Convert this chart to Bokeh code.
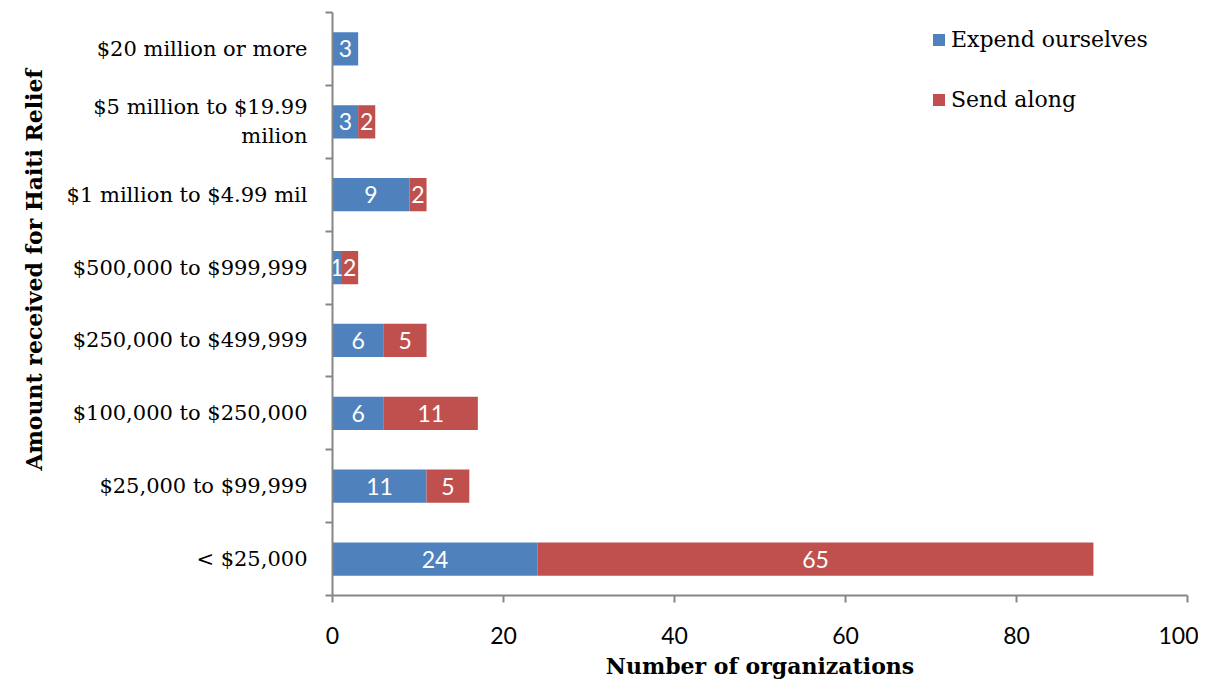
from bokeh.plotting import figure
from bokeh.models import ColumnDataSource, FixedTicker, Range1d, Legend, LegendItem, Title
from bokeh.core.properties import value
from bokeh.embed import file_html
from bokeh.resources import INLINE

# ---- data (bottom to top) ----
categories = ["< $25,000", "$25,000 to $99,999", "$100,000 to $250,000",
              "$250,000 to $499,999", "$500,000 to $999,999",
              "$1 million to $4.99 mil", "$5 million to $19.99\nmilion",
              "$20 million or more"]
expend_ourselves = [24, 11, 6, 6, 1, 9, 3, 3]
send_along = [65, 5, 11, 5, 2, 2, 2, 0]
x_ticks = [0, 20, 40, 60, 80, 100]

BLUE = "#4F81BD"
RED = "#C0504D"
GRAY = "#868686"
SERIF = "DejaVu Serif"
SANS = "Lato"

n = len(categories)
ys = [i + 0.5 for i in range(n)]
totals = [e + s for e, s in zip(expend_ourselves, send_along)]

src = ColumnDataSource(dict(y=ys, e=expend_ourselves, s=send_along, t=totals))

p = figure(width=1198, height=682, output_backend="svg", toolbar_location=None,
           x_range=Range1d(0, 100), y_range=Range1d(0, n))
p.min_border_left = 332
p.min_border_right = 11
p.min_border_top = 12
p.min_border_bottom = 87
p.outline_line_color = None
p.xgrid.visible = False
p.ygrid.visible = False

r1 = p.hbar(y="y", left=0, right="e", height=0.455, source=src,
            fill_color=BLUE, line_color=None)
r2 = p.hbar(y="y", left="e", right="t", height=0.455, source=src,
            fill_color=RED, line_color=None)

# value labels
e_lab = ColumnDataSource(dict(
    x=[e / 2 for e in expend_ourselves], y=ys,
    txt=[str(e) for e in expend_ourselves]))
s_idx = [i for i in range(n) if send_along[i] > 0]
s_lab = ColumnDataSource(dict(
    x=[expend_ourselves[i] + send_along[i] / 2 for i in s_idx],
    y=[ys[i] for i in s_idx],
    txt=[str(send_along[i]) for i in s_idx]))
for s in (e_lab, s_lab):
    p.text(x="x", y="y", text="txt", source=s, text_color="white",
           text_font=value(SANS), text_font_size="23px",
           text_align="center", text_baseline="middle")

# x axis
xa = p.xaxis[0]
xa.ticker = FixedTicker(ticks=x_ticks)
xa.axis_line_color = GRAY
xa.axis_line_width = 2
xa.major_tick_line_color = GRAY
xa.major_tick_line_width = 2
xa.major_tick_out = 7
xa.major_tick_in = 0
xa.minor_tick_line_color = None
xa.major_label_text_font = SANS
xa.major_label_text_font_size = "23px"
xa.major_label_text_color = "black"
xa.major_label_standoff = 24
xa.axis_label = "Number of organizations"
xa.axis_label_text_font = SERIF
xa.axis_label_text_font_style = "bold"
xa.axis_label_text_font_size = "22px"
xa.axis_label_text_color = "black"
xa.axis_label_standoff = 6

# y axis: labels at centres, tick marks at boundaries
ya = p.yaxis[0]
ya.ticker = FixedTicker(ticks=ys, minor_ticks=list(range(n + 1)))
ya.major_label_overrides = {ys[i]: categories[i] for i in range(n)}
ya.axis_line_color = GRAY
ya.axis_line_width = 2
ya.major_tick_line_color = None
ya.major_tick_out = 0
ya.major_tick_in = 0
ya.minor_tick_line_color = GRAY
ya.minor_tick_line_width = 2
ya.minor_tick_out = 7
ya.minor_tick_in = 0
ya.major_label_text_font = SERIF
ya.major_label_text_font_size = "21px"
ya.major_label_text_color = "black"
ya.major_label_standoff = 18

ytitle = Title(text="Amount received for Haiti Relief", align="left",
               vertical_align="top",
               text_font=SERIF, text_font_style="bold", text_font_size="22px",
               text_color="black", offset=125, standoff=29)
p.add_layout(ytitle, "left")

legend = Legend(items=[LegendItem(label="Expend ourselves", renderers=[r1]),
                       LegendItem(label="Send along", renderers=[r2])],
                location=(599, 483), orientation="vertical")
legend.background_fill_alpha = 0
legend.border_line_color = None
legend.padding = 0
legend.margin = 0
legend.glyph_width = 15
legend.glyph_height = 15
legend.label_height = 24
legend.spacing = 35
legend.label_standoff = 5
legend.label_text_font = SERIF
legend.label_text_font_size = "22px"
legend.label_text_color = "black"
p.add_layout(legend)

open("out.html", "w").write(file_html(p, INLINE))
